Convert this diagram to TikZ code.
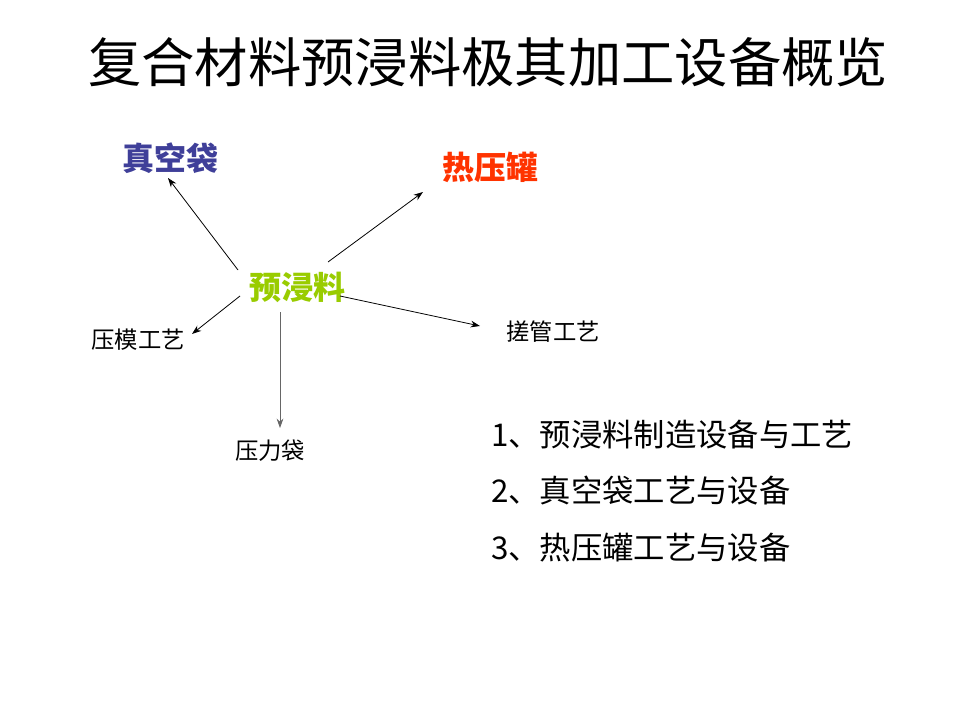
\documentclass[tikz,border=0pt]{standalone}
\usepackage{fontspec}
\setmainfont{Noto Sans CJK SC}
\newfontfamily\cjk{Noto Sans CJK SC}
\usetikzlibrary{arrows.meta}
\definecolor{vacblue}{HTML}{3F3F99}
\definecolor{hotred}{HTML}{FF3300}
\definecolor{pregreen}{HTML}{99CC00}
\definecolor{downgrey}{HTML}{666666}
\begin{document}
\begin{tikzpicture}[x=0.75pt,y=-0.75pt,
  title/.style={font=\cjk\fontsize{40}{44}\selectfont, inner sep=0pt},
  bigword/.style={font=\cjk\bfseries\fontsize{24}{28}\selectfont, inner sep=0pt},
  smallword/.style={font=\cjk\fontsize{17.5}{20}\selectfont, inner sep=0pt},
  listitem/.style={font=\cjk\fontsize{23.5}{26}\selectfont, inner sep=0pt, anchor=west},
  arr/.style={-{Stealth[length=7pt,width=5pt]}, line width=0.6pt}]
\useasboundingbox (0,0) rectangle (960,720);
\fill[white] (0,0) rectangle (960,720);

\node[title] (t) at (488,62) {复合材料预浸料极其加工设备概览};

\node[bigword, text=vacblue] (vac) at (170,158) {真空袋};
\node[bigword, text=hotred] (hot) at (490,167) {热压罐};
\node[bigword, text=pregreen] (pre) at (297,287) {预浸料};
\node[smallword] (mold) at (138,340) {压模工艺};
\node[smallword] (tube) at (553,332) {搓管工艺};
\node[smallword] (bag) at (270,451) {压力袋};

\node[listitem] (l1) at (491,435) {1、预浸料制造设备与工艺};
\node[listitem] (l2) at (491,491) {2、真空袋工艺与设备};
\node[listitem] (l3) at (491,548) {3、热压罐工艺与设备};

\coordinate (s1) at (238,270); \coordinate (e1) at (168,178);
\coordinate (s2) at (328,262); \coordinate (e2) at (423,192);
\coordinate (s3) at (240,296); \coordinate (e3) at (192,334);
\coordinate (s4) at (340,296); \coordinate (e4) at (480,326);
\coordinate (s5) at (280,312); \coordinate (e5) at (280,428);

\draw[arr] (s1) -- (e1);
\draw[arr] (s2) -- (e2);
\draw[arr] (s3) -- (e3);
\draw[arr] (s4) -- (e4);
\draw[arr, draw=downgrey] (s5) -- (e5);
\end{tikzpicture}
\end{document}
